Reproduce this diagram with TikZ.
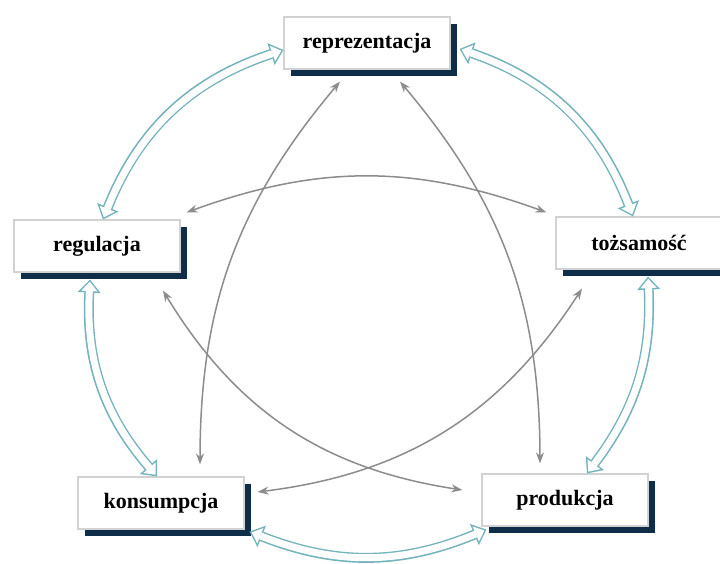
\documentclass[tikz,border=0pt]{standalone}
\usepackage{fontspec}
\setmainfont{Liberation Serif}
\usetikzlibrary{arrows.meta, shadows}
\definecolor{cyanline}{HTML}{74B3BC}
\definecolor{shadownavy}{HTML}{0E2D48}
\definecolor{thinarrow}{HTML}{8C8C8C}

\begin{document}
\begin{tikzpicture}
    [x=1pt, y=1pt,
      box/.style={draw=gray!35, line width=1.2pt, fill=white,
        minimum width=166pt, minimum height=52pt,
        font=\fontsize{22}{25}\selectfont\bfseries,
        drop shadow={shadow xshift=7pt, shadow yshift=-7pt, fill=shadownavy, opacity=1}},
      cycleout/.style={draw=cyanline, line width=10pt,
        {Triangle[width=23pt, length=13pt, line width=0pt]}-{Triangle[width=23pt, length=13pt, line width=0pt]}},
      cyclein/.style={draw=white, line width=7pt, shorten <=2.2pt, shorten >=2.2pt,
        {Triangle[width=16.4pt, length=9.3pt, line width=0pt]}-{Triangle[width=16.4pt, length=9.3pt, line width=0pt]}},
      crossarrow/.style={draw=thinarrow, line width=1.5pt,
        {Stealth[length=11pt, width=8pt]}-{Stealth[length=11pt, width=8pt]}}]
    \useasboundingbox (0,0) rectangle (720,563);
    \node[box] (repr) at (367,520) {reprezentacja};
    \node[box] (regul) at (97,317) {regulacja};
    \node[box] (tozs) at (639,320) {tożsamość};
    \node[box] (kons) at (161,60) {konsumpcja};
    \node[box] (prod) at (565,63) {produkcja};

    \coordinate (repr-w) at ([yshift=-7pt]repr.west);
    \coordinate (repr-e) at ([xshift=9pt, yshift=-6pt]repr.east);
    \coordinate (regul-n) at ([xshift=6pt]regul.north);
    \coordinate (regul-s) at ([xshift=-7pt, yshift=-7pt]regul.south);
    \coordinate (tozs-n) at ([xshift=-6pt]tozs.north);
    \coordinate (tozs-s) at ([xshift=9pt, yshift=-7pt]tozs.south);
    \coordinate (kons-n) at ([xshift=-4pt]kons.north);
    \coordinate (kons-e) at ([xshift=5pt, yshift=-2pt]kons.south east);
    \coordinate (prod-n) at ([xshift=22pt]prod.north);
    \coordinate (prod-w) at ([xshift=5pt, yshift=-3pt]prod.south west);

    \foreach \from/\to/\bend in {repr-w/regul-n/-25, repr-e/tozs-n/25, regul-s/kons-n/-22, tozs-s/prod-n/20, kons-e/prod-w/-22}
    {
      \draw[cycleout] (\from) to[bend left=\bend] (\to);
      \draw[cyclein] (\from) to[bend left=\bend] (\to);
    }

    \draw[crossarrow] ([xshift=6pt, yshift=7pt]regul.north east) to[bend left=20] ([xshift=-9pt, yshift=4pt]tozs.north west);
    \draw[crossarrow] ([xshift=-27pt, yshift=-12pt]repr.south) to[bend right=20] ([xshift=39pt, yshift=12pt]kons.north);
    \draw[crossarrow] ([xshift=33pt, yshift=-12pt]repr.south) to[bend left=20] ([xshift=-25pt, yshift=10pt]prod.north);
    \draw[crossarrow] ([xshift=66pt, yshift=-18pt]regul.south) to[bend right=25] ([xshift=-19pt, yshift=10pt]prod.west);
    \draw[crossarrow] ([xshift=13pt, yshift=11pt]kons.east) to[bend right=25] ([xshift=-57pt, yshift=-19pt]tozs.south);
\end{tikzpicture}
\end{document}
